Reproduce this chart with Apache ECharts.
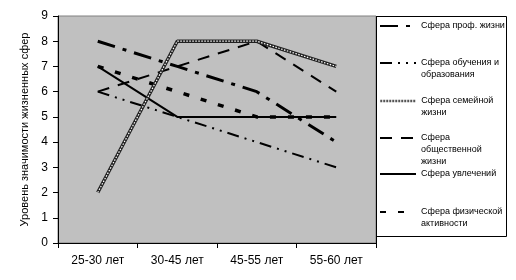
<!DOCTYPE html>
<html><head><meta charset="utf-8">
<script src="https://cdn.jsdelivr.net/npm/echarts@6/dist/echarts.min.js"></script>
<style>html,body{margin:0;padding:0;background:#fff}#c{width:516px;height:280px}</style>
</head><body><div id="c"></div>
<script>
const categories = ['25-30 лет', '30-45 лет', '45-55 лет', '55-60 лет'];
const yTicks = [0, 1, 2, 3, 4, 5, 6, 7, 8, 9];
const seriesNames = ['Сфера проф. жизни', 'Сфера обучения и\nобразования', 'Сфера семейной\nжизни', 'Сфера\nобщественной\nжизни', 'Сфера увлечений', 'Сфера физической\nактивности'];
const prof = [8, 7, 6, 4];
const study = [6, 5, 4, 3];
const family = [2, 8, 8, 7];
const social = [6, 7, 8, 6];
const hobby = [7, 5, 5, 5];
const physical = [7, 6, 5, 5];

const chart = echarts.init(document.getElementById('c'), null, {renderer: 'canvas'});
const F = '"Liberation Sans", Arial, sans-serif';
function ln(name, data, style, z) {
  return {type: 'line', name: name, data: data, symbol: 'none', z: z || 2,
    itemStyle: {color: '#000'},
    lineStyle: Object.assign({color: '#000'}, style), animation: false};
}
const legendTops = [20, 45, 83, 108, 168, 194];
const legends = seriesNames.map((n, i) => {
  const lg = {
    data: [n], left: 379, top: legendTops[i], orient: 'vertical', padding: 0,
    itemWidth: 36, itemHeight: 10, selectedMode: false,
    itemStyle: {opacity: 0},
    // pad with blank lines above so the first text line sits level with the icon
    formatter: function (name) {
      const k = name.split('\n').length - 1;
      return '\n'.repeat(k) + name;
    },
    textStyle: {fontFamily: F, fontSize: 9, color: '#000', lineHeight: 12}
  };
  if (i === 2) lg.lineStyle = {color: '#555', width: 2.5, type: [2, 1]};
  return lg;
});

chart.setOption({
  animation: false,
  backgroundColor: '#fff',
  grid: {left: 58, right: 140, top: 16, bottom: 37, show: true, backgroundColor: '#c0c0c0', borderColor: '#808080', borderWidth: 1},
  graphic: [
    {type: 'rect', shape: {x: 376.5, y: 16.5, width: 130, height: 220}, style: {fill: '#fff', stroke: '#000', lineWidth: 1}, z: 0},
    {type: 'line', shape: {x1: 376.5, y1: 16, x2: 376.5, y2: 243}, style: {stroke: '#000', lineWidth: 1}, z: 0}
  ],
  legend: legends,
  xAxis: {type: 'category', data: categories, boundaryGap: true,
    axisLine: {lineStyle: {color: '#000', width: 1}},
    axisTick: {show: true, length: 5, inside: false, lineStyle: {color: '#000'}},
    axisLabel: {color: '#000', fontFamily: F, fontSize: 12, margin: 12},
    splitLine: {show: false}},
  yAxis: {type: 'value', min: yTicks[0], max: yTicks[yTicks.length - 1], interval: 1,
    name: 'Уровень значимости жизненных сфер', nameLocation: 'middle', nameGap: 25,
    nameTextStyle: {color: '#000', fontFamily: F, fontSize: 11},
    axisLine: {show: true, lineStyle: {color: '#000', width: 1}},
    axisTick: {show: true, length: 5, lineStyle: {color: '#000'}},
    axisLabel: {color: '#000', fontFamily: F, fontSize: 12, margin: 10},
    splitLine: {show: false}},
  series: [
    ln(seriesNames[0], prof, {width: 3, type: [18, 8, 4, 8]}),
    ln(seriesNames[1], study, {width: 2, type: [12, 6, 2, 6, 2, 6]}),
    ln(seriesNames[2], family, {width: 3.5, color: '#222'}, 3),
    ln(seriesNames[2], family, {width: 1.2, color: '#fff', type: [1.5, 1.5]}, 4),
    ln(seriesNames[3], social, {width: 2, type: [12, 9]}),
    ln(seriesNames[4], hobby, {width: 2}),
    ln(seriesNames[5], physical, {width: 3.5, type: [6, 12]})
  ]
});
</script></body></html>
